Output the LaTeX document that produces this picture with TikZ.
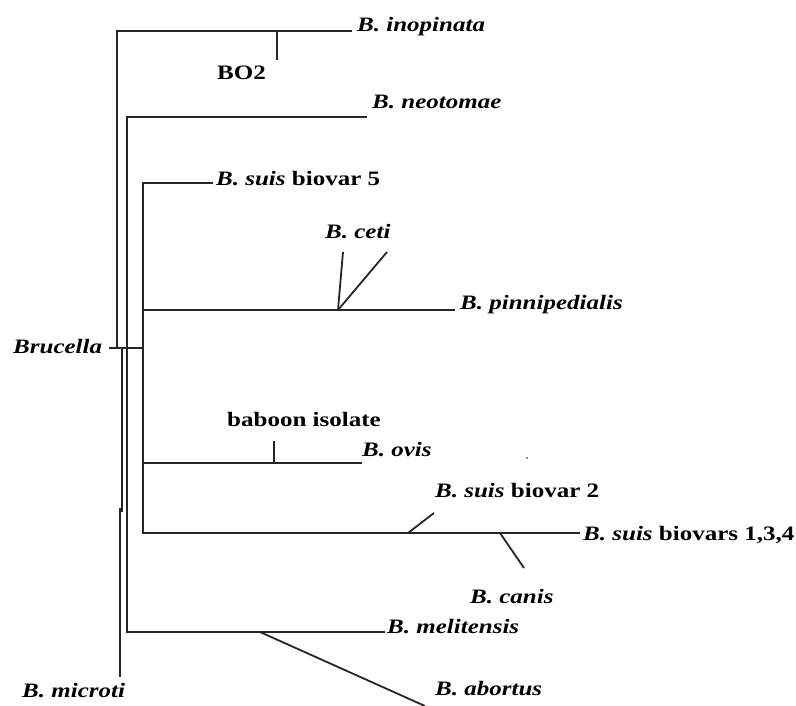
\documentclass[tikz,border=0pt]{standalone}
\usepackage{fontspec}
\setmainfont{Liberation Serif}[FakeStretch=1.22]
\begin{document}
\begin{tikzpicture}[x=1pt,y=-1pt,
  branch/.style={line width=1.8pt,draw=black!85,line cap=butt},
  taxon/.style={anchor=base west,inner sep=0pt,font=\fontsize{20.5}{22}\selectfont\bfseries\itshape},
  plain/.style={anchor=base west,inner sep=0pt,font=\fontsize{20.5}{22}\selectfont\bfseries}]
\useasboundingbox (0,0) rectangle (796,706);

% branch points and tips
\coordinate (r1) at (117,31);   \coordinate (r1b) at (117,348);
\coordinate (ino) at (352,31);  \coordinate (bo2a) at (277,31); \coordinate (bo2b) at (277,60);
\coordinate (m1) at (122,348);  \coordinate (m2) at (122,512);
\coordinate (m3) at (120,508);  \coordinate (mic) at (120,677);
\coordinate (r2) at (127,117);  \coordinate (r2b) at (127,632);
\coordinate (neo) at (367,117);
\coordinate (r3) at (143,183);  \coordinate (r3b) at (143,533);
\coordinate (s5) at (213,183);
\coordinate (p0) at (143,310);  \coordinate (pb) at (338,310); \coordinate (pin) at (455,310);
\coordinate (c1) at (343,252);  \coordinate (c2) at (387,252);
\coordinate (bt) at (109,348);  \coordinate (bt2) at (143,348);
\coordinate (o0) at (143,463);  \coordinate (ovi) at (362,463);
\coordinate (ba) at (274,463);  \coordinate (bb) at (274,441);
\coordinate (s134) at (580,533);
\coordinate (s2a) at (408,533); \coordinate (s2b) at (434,513);
\coordinate (ca) at (500,533);  \coordinate (cb) at (524,568);
\coordinate (mel) at (385,632); \coordinate (aa) at (260,632); \coordinate (ab) at (425,706);
\coordinate (dot) at (527,458);

% tree lines
\draw[branch] (r1b) -- (r1) -- (ino);
\draw[branch] (bo2a) -- (bo2b);
\draw[branch] (m1) -- (m2);
\draw[branch] (m3) -- (mic);
\draw[branch] (neo) -- (r2) -- (r2b) -- (mel);
\draw[branch] (aa) -- (ab);
\draw[branch] (s5) -- (r3) -- (r3b) -- (s134);
\draw[branch] (p0) -- (pin);
\draw[branch] (pb) -- (c1);
\draw[branch] (pb) -- (c2);
\draw[branch] (bt) -- (bt2);
\draw[branch] (o0) -- (ovi);
\draw[branch] (ba) -- (bb);
\draw[branch] (s2a) -- (s2b);
\draw[branch] (ca) -- (cb);
\fill[blue!80] (dot) circle (1pt);

% labels
\node[taxon] (tino) at (357,32) {B. inopinata};
\node[plain] (tbo2) at (217,80) {BO2};
\node[taxon] (tneo) at (372,109) {B. neotomae};
\node[taxon] (ts5) at (216,186) {B. suis \upshape biovar 5};
\node[taxon] (tceti) at (325,238) {B. ceti};
\node[taxon] (tpin) at (460,309) {B. pinnipedialis};
\node[taxon] (tbru) at (13,353) {Brucella};
\node[plain] (tbab) at (227,426) {baboon isolate};
\node[taxon] (tovi) at (362,456) {B. ovis};
\node[taxon] (ts2) at (435,497) {B. suis \upshape biovar 2};
\node[taxon] (ts134) at (583,540) {B. suis \upshape biovars 1,3,4};
\node[taxon] (tcan) at (470,603) {B. canis};
\node[taxon] (tmel) at (387,633) {B. melitensis};
\node[taxon] (tabo) at (435,695) {B. abortus};
\node[taxon] (tmic) at (22,697) {B. microti};
\end{tikzpicture}
\end{document}
